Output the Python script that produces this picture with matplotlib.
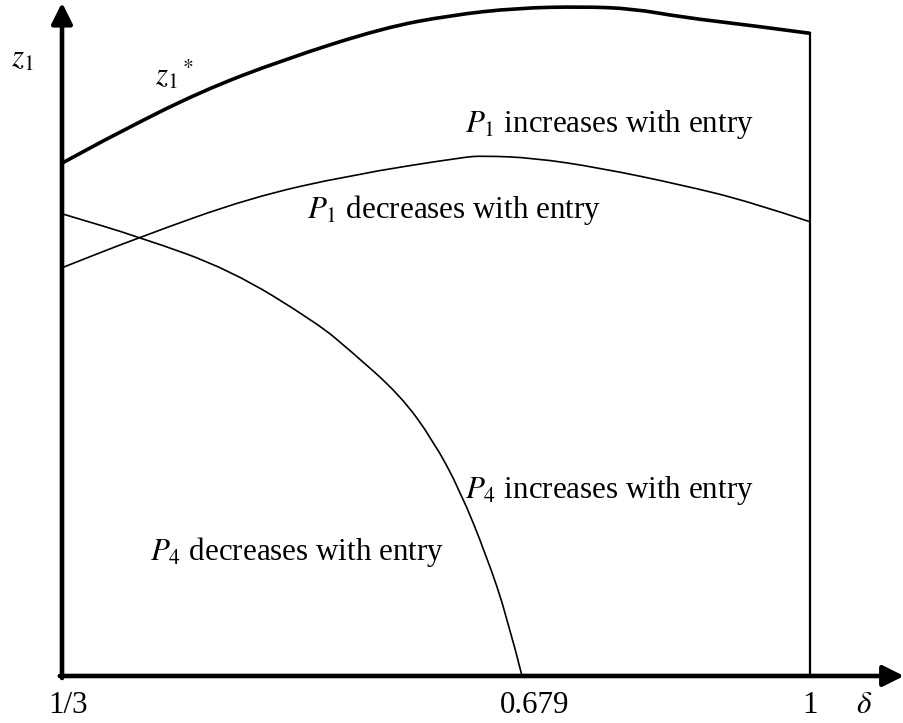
"""
Entry regions diagram: z1* frontier with P1 and P4 boundaries
"""
import matplotlib
matplotlib.use("Agg")
import matplotlib.pyplot as plt
from matplotlib.path import Path
from matplotlib.patches import PathPatch

plt.rcParams['font.family'] = ['Liberation Serif', 'DejaVu Serif']
plt.rcParams['mathtext.fontset'] = 'stix'

# horizontal position runs 0 (delta = 1/3) .. 1 (delta = 1), height 0 .. 1
z_star_x = [0, 0.074, 0.184, 0.295, 0.429, 0.519, 0.608, 0.697, 0.763, 0.830, 0.920, 1.0]
z_star_y = [0.770, 0.815, 0.877, 0.925, 0.973, 0.992, 1.003, 1.005, 1.002, 0.989, 0.977, 0.965]

p1_x = [0, 0.104, 0.251, 0.385, 0.536, 0.563, 0.630, 0.719, 0.830, 0.920, 1.0]
p1_y = [0.613, 0.659, 0.718, 0.752, 0.779, 0.781, 0.778, 0.763, 0.737, 0.712, 0.682]

p4_x = [0, 0.104, 0.225, 0.341, 0.385, 0.452, 0.496, 0.532, 0.568, 0.595, 0.615]
p4_y = [0.694, 0.659, 0.610, 0.530, 0.489, 0.422, 0.354, 0.279, 0.179, 0.089, 0]

tick_pos = [0, 0.615, 1.0]
tick_labels = ['1/3', '0.679', '1']


def smooth_path(xs, ys):
    # quadratic bezier through segment midpoints, points act as controls
    verts = [(xs[0], ys[0])]
    codes = [Path.MOVETO]
    n = len(xs)
    if n > 2:
        verts.append(((xs[0] + xs[1]) / 2, (ys[0] + ys[1]) / 2))
        codes.append(Path.LINETO)
        for i in range(1, n - 1):
            mid = ((xs[i] + xs[i + 1]) / 2, (ys[i] + ys[i + 1]) / 2)
            if i == n - 2:
                mid = (xs[i + 1], ys[i + 1])
            verts += [(xs[i], ys[i]), mid]
            codes += [Path.CURVE3, Path.CURVE3]
    else:
        verts.append((xs[1], ys[1]))
        codes.append(Path.LINETO)
    return Path(verts, codes)


fig = plt.figure(figsize=(9.04, 7.23), dpi=100)
ax = fig.add_axes([0, 0, 1, 1])
ax.set_xlim(-0.0829, 1.1257)
ax.set_ylim(-0.0706, 1.015)
ax.axis('off')

# axes with arrow heads
arrow = dict(arrowstyle='-|>,head_length=0.9,head_width=0.45', lw=3.3,
             color='black', shrinkA=0, shrinkB=0, mutation_scale=14)
ax.annotate('', xy=(0, 1.011), xytext=(0, -0.003), arrowprops=arrow)
ax.annotate('', xy=(1.1257, 0), xytext=(-0.003, 0), arrowprops=arrow)

# curves
ax.add_patch(PathPatch(smooth_path(z_star_x, z_star_y), fill=False, lw=2.6,
                       edgecolor='black', capstyle='butt'))
ax.add_patch(PathPatch(smooth_path(p1_x, p1_y), fill=False, lw=1.2, edgecolor='black'))
ax.add_patch(PathPatch(smooth_path(p4_x, p4_y), fill=False, lw=1.2, edgecolor='black'))
ax.plot([1.0, 1.0], [0, z_star_y[-1]], color='black', lw=1.6)

fs = 22.3
label_x = [0.008, 0.632, 1.0]
for pos, lab in zip(label_x, tick_labels):
    ax.text(pos, -0.056, lab, fontsize=fs, ha='center', va='baseline')
ax.text(1.073, -0.056, r'$\delta$', fontsize=fs, ha='center', va='baseline')
ax.text(-0.053, 0.915, r'$z_1$', fontsize=fs, ha='center', va='baseline')
ax.text(0.124, 0.887, r'$z_1{}^*$', fontsize=fs, ha='left', va='baseline')

ax.text(0.539, 0.817, r'$P_1$ increases with entry', fontsize=fs, ha='left', va='baseline')
ax.text(0.328, 0.688, r'$P_1$ decreases with entry', fontsize=fs, ha='left', va='baseline')
ax.text(0.539, 0.267, r'$P_4$ increases with entry', fontsize=fs, ha='left', va='baseline')
ax.text(0.118, 0.174, r'$P_4$ decreases with entry', fontsize=fs, ha='left', va='baseline')

fig.savefig('out.png', dpi=100)
